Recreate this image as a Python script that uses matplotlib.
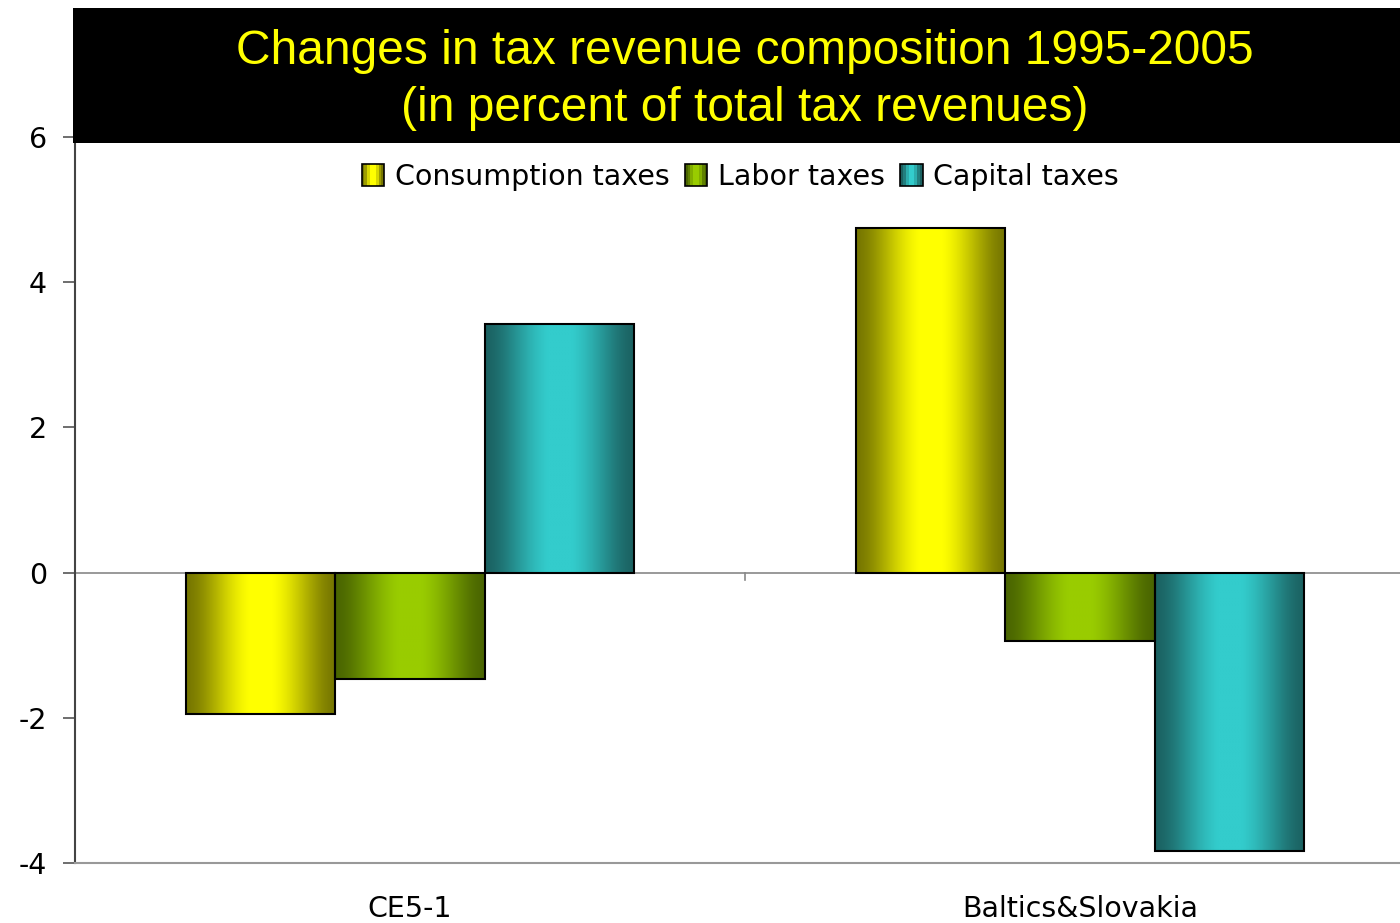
import numpy as np
import matplotlib
matplotlib.use("Agg")
import matplotlib.pyplot as plt
from matplotlib.patches import Rectangle
from matplotlib.legend_handler import HandlerBase
from matplotlib.colors import to_rgb

plt.rcParams["axes.unicode_minus"] = False

# data
categories = ["CE5-1", "Baltics&Slovakia"]
series = ["Consumption taxes", "Labor taxes", "Capital taxes"]
consumption = [-1.95, 4.75]
labor = [-1.47, -0.94]
capital = [3.42, -3.83]
values = [consumption, labor, capital]

# bright centre / dark edge colour per series
bright = ["#ffff00", "#99cc00", "#33cccc"]
dark = ["#777700", "#4a6500", "#1b6262"]


def gradient_row(c_bright, c_dark, n=200):
    t = np.linspace(0, 1, n)
    f = np.clip(1.05 * np.sin(np.pi * t) ** 1.6, 0, 1)
    b = np.array(to_rgb(c_bright))
    d = np.array(to_rgb(c_dark))
    return (d[None, :] + (b - d)[None, :] * f[:, None])[None, :, :]


class GradientHandler(HandlerBase):
    def __init__(self, idx):
        super().__init__()
        self.idx = idx

    def create_artists(self, legend, orig_handle, xdescent, ydescent,
                       width, height, fontsize, trans):
        size = min(width, height)
        x0 = xdescent + (width - size) / 2
        y0 = -ydescent + (height - size) / 2
        n = 8
        row = gradient_row(bright[self.idx], dark[self.idx], n)[0]
        arts = []
        for k in range(n):
            r = Rectangle((x0 + k * size / n, y0), size / n, size,
                          facecolor=row[k], edgecolor="none", transform=trans)
            arts.append(r)
        arts.append(Rectangle((x0, y0), size, size, facecolor="none",
                              edgecolor="black", lw=1.2, transform=trans))
        return arts


fig = plt.figure(figsize=(14, 9.23), dpi=100)
W, H = 1400, 923
ax = fig.add_axes([75 / W, 1 - 863 / H, 1340 / W, 726 / H])

x = np.arange(len(categories))
bw = 0.223
for i, vals in enumerate(values):
    xs = x + (i - 1) * bw
    bars = ax.bar(xs, vals, width=bw, facecolor="none", edgecolor="black",
                  lw=1.5, zorder=4)
    grad = gradient_row(bright[i], dark[i])
    for b in bars:
        x0, y0 = b.get_x(), b.get_y()
        w, h = b.get_width(), b.get_height()
        ax.imshow(grad, extent=[x0, x0 + w, min(y0, y0 + h), max(y0, y0 + h)],
                  aspect="auto", zorder=3, interpolation="bilinear")

ax.set_xlim(-0.5, 1.5)
ax.set_ylim(-4, 6)
ax.set_yticks([-4, -2, 0, 2, 4, 6])
ax.set_xticks(x)
ax.set_xticklabels(categories)
ax.tick_params(axis="x", length=0, pad=23, labelsize=20.5)
ax.tick_params(axis="y", length=9, width=1.2, color="#555555", pad=11,
               labelsize=20.5)
for s in ["top", "right"]:
    ax.spines[s].set_visible(False)
ax.spines["left"].set_color("#444444")
ax.spines["left"].set_linewidth(1.5)
ax.spines["bottom"].set_color("#999999")
ax.spines["bottom"].set_linewidth(1.5)
ax.axhline(0, color="#888888", lw=1.2, zorder=2)
# category separator tick on the zero line
ax.plot([0.5, 0.5], [0, -0.1], color="#888888", lw=1.2, zorder=2)

# black title banner
fig.patches.append(Rectangle((73 / W, 1 - 143 / H), (W - 73) / W, 135 / H,
                             transform=fig.transFigure, facecolor="black",
                             edgecolor="none", zorder=5))
fig.text(745 / W, 1 - 80 / H,
         "Changes in tax revenue composition 1995-2005\n(in percent of total tax revenues)",
         ha="center", va="center", color="#ffff00", fontsize=34.5,
         family="Liberation Sans", linespacing=1.35, zorder=6)

handles = [Rectangle((0, 0), 1, 1) for _ in series]
fig.legend(handles, series, loc="center", bbox_to_anchor=(740 / W, 1 - 177 / H),
           ncol=3, frameon=False, fontsize=20.5, handlelength=0.85,
           handleheight=0.85, handletextpad=0.35, columnspacing=0.5,
           handler_map={h: GradientHandler(i) for i, h in enumerate(handles)})

fig.savefig("out.png", dpi=100)
